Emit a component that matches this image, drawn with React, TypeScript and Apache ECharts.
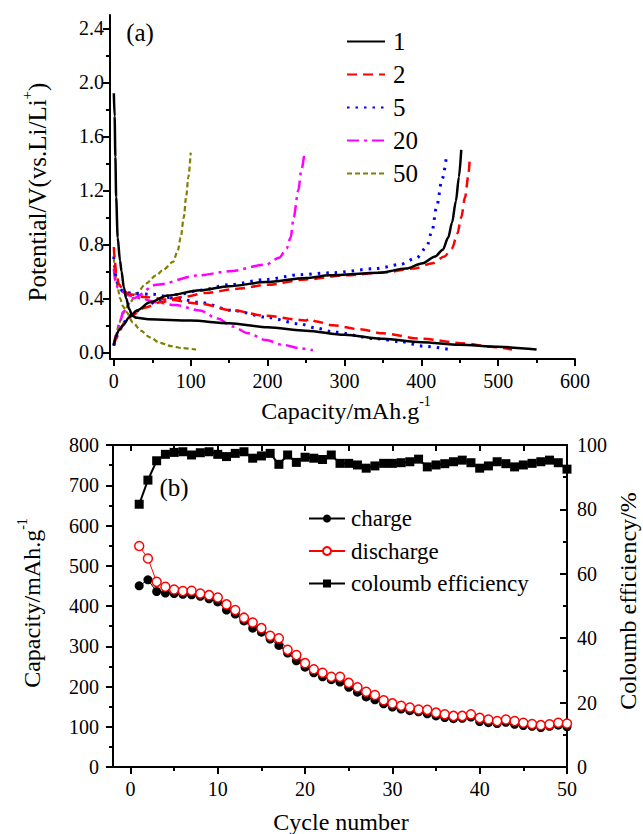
import React, { useEffect, useRef } from 'react';
import * as echarts from 'echarts';

const FONT = 'Liberation Serif';

// ---------- (a) charge / discharge profiles: [capacity mAh/g, potential V] ----------
const cycle1Discharge = [[0,1.92],[1,1.75],[2,1.45],[3,1.15],[5,0.85],[8,0.68],[10,0.6],[13,0.48],[16,0.4],[20,0.32],[24,0.27],[30,0.255],[45,0.245],[100,0.235],[150,0.215],[200,0.185],[250,0.16],[300,0.13],[350,0.1],[400,0.075],[450,0.055],[500,0.04],[550,0.02]];
const cycle1Charge = [[0,0.05],[3,0.12],[6,0.16],[12,0.2],[20,0.26],[30,0.31],[47,0.37],[70,0.42],[112,0.46],[150,0.49],[198,0.52],[250,0.55],[281,0.57],[346,0.59],[380,0.62],[402,0.66],[418,0.71],[428,0.76],[435,0.85],[440,0.96],[445,1.12],[449,1.3],[452,1.5]];
const cycle2Discharge = [[0,0.78],[1,0.7],[3,0.58],[7,0.5],[12,0.46],[20,0.43],[40,0.41],[70,0.39],[112,0.36],[155,0.31],[198,0.27],[242,0.24],[250,0.235],[255,0.25],[262,0.23],[285,0.2],[320,0.17],[350,0.14],[400,0.1],[458,0.065],[490,0.04],[518,0.02]];
const cycle2Charge = [[0,0.05],[3,0.1],[8,0.17],[15,0.23],[25,0.28],[40,0.33],[60,0.37],[90,0.41],[120,0.44],[160,0.47],[200,0.5],[250,0.54],[300,0.57],[350,0.59],[390,0.62],[415,0.66],[430,0.71],[440,0.77],[447,0.88],[452,1.0],[457,1.15],[461,1.3],[463,1.43]];
const cycle5Discharge = [[0,0.71],[1,0.64],[3,0.55],[7,0.48],[12,0.45],[25,0.435],[50,0.43],[80,0.4],[112,0.37],[155,0.31],[198,0.26],[242,0.21],[263,0.18],[285,0.15],[341,0.1],[372,0.08],[403,0.045],[437,0.02]];
const cycle5Charge = [[0,0.05],[3,0.11],[8,0.17],[15,0.23],[25,0.29],[40,0.34],[60,0.39],[85,0.43],[112,0.46],[150,0.5],[198,0.54],[242,0.575],[285,0.59],[341,0.62],[372,0.65],[394,0.7],[407,0.78],[414,0.9],[420,1.08],[427,1.28],[433,1.46]];
const cycle20Discharge = [[0,0.62],[2,0.53],[5,0.48],[10,0.45],[20,0.42],[35,0.4],[55,0.37],[80,0.35],[112,0.31],[135,0.25],[155,0.19],[175,0.14],[198,0.09],[220,0.055],[242,0.03],[259,0.015]];
const cycle20Charge = [[0,0.06],[3,0.13],[8,0.22],[12,0.3],[25,0.4],[55,0.5],[110,0.57],[150,0.6],[198,0.65],[215,0.7],[225,0.77],[230,0.85],[234,1.0],[240,1.2],[244,1.35],[248,1.48]];
const cycle50Discharge = [[0,0.7],[2,0.58],[5,0.48],[8,0.4],[12,0.34],[16,0.3],[25,0.22],[35,0.16],[47,0.11],[60,0.07],[75,0.045],[90,0.03],[107,0.02]];
const cycle50Charge = [[0,0.05],[3,0.13],[7,0.22],[12,0.29],[20,0.36],[30,0.44],[42,0.51],[55,0.57],[64,0.61],[77,0.67],[83,0.75],[87,0.85],[91,1.0],[94,1.15],[97,1.3],[100,1.48]];

const capTicks = [0, 100, 200, 300, 400, 500, 600];
const capMinorTicks = [50, 150, 250, 350, 450, 550];
const potTicks = [0, 0.4, 0.8, 1.2, 1.6, 2.0, 2.4];
const potMinorTicks = [0.2, 0.6, 1.0, 1.4, 1.8, 2.2];

// ---------- (b) cycling ----------
const cycles = [1,2,3,4,5,6,7,8,9,10,11,12,13,14,15,16,17,18,19,20,21,22,23,24,25,26,27,28,29,30,31,32,33,34,35,36,37,38,39,40,41,42,43,44,45,46,47,48,49,50];
const chargeCap = [450,465,436,432,431,429,428,424,418,410,390,380,363,345,335,318,302,283,264,248,234,224,217,211,198,186,174,167,157,149,144,140,137,132,127,123,120,121,124,113,110,108,111,106,103,101,98,101,104,100];
const dischargeCap = [549,518,460,448,441,437,438,431,427,421,404,390,371,359,345,326,320,291,278,258,243,234,224,224,209,198,187,179,166,158,152,148,143,142,135,131,127,127,131,122,118,114,118,114,110,107,104,106,110,108];
const efficiency = [81.6,89.1,95.1,97.1,97.7,97.9,96.9,97.6,97.9,97.1,96.4,97.4,97.9,95.9,96.6,97.4,94.0,96.9,94.6,96.2,95.9,95.5,96.9,94.3,94.3,93.8,92.8,93.5,94.3,94.3,94.5,94.8,95.6,93.2,93.8,94.2,94.8,95.3,94.5,92.8,93.5,94.8,94.2,93.2,93.8,94.3,94.8,95.3,94.5,92.5];
const cycleTicks = [0, 10, 20, 30, 40, 50];
const cycleMinorTicks = [5, 15, 25, 35, 45];
const cycleTopTicks = [0, 5, 10, 15, 20, 25, 30, 35, 40, 45, 50];

const BLACK = '#000000';

const profileLine = (name: string, data: number[][], color: string, type: any, width: number, z: number) => ({
  type: 'line',
  name,
  data,
  xAxisIndex: 0,
  yAxisIndex: 0,
  symbol: 'none',
  showSymbol: false,
  smooth: 0.3,
  smoothMonotone: 'x',
  z,
  lineStyle: { color, width, type, cap: 'butt' },
  itemStyle: { color },
});

const labelStyle = { fontFamily: FONT, fontSize: 20, color: BLACK };

export default function App() {
  const ref = useRef<HTMLDivElement>(null);
  useEffect(() => {
    document.body.style.margin = '0';
    const chart = echarts.init(ref.current!, null, { renderer: 'svg' });
    const axLine = { show: true, onZero: false, lineStyle: { color: BLACK, width: 2 } };
    const noLine = { show: false, onZero: false };
    const tickStyle = { color: BLACK, width: 2 };

    const option: any = {
      animation: false,
      backgroundColor: '#ffffff',
      textStyle: { fontFamily: FONT },
      grid: [
        { left: 110, right: 68, top: 15, bottom: 475 },
        { left: 113, right: 76, top: 445, bottom: 67 },
      ],
      xAxis: [
        {
          gridIndex: 0, type: 'value', position: 'bottom', min: -5, max: 600,
          axisLine: axLine,
          axisTick: { show: true, inside: false, length: 7, customValues: capTicks, lineStyle: tickStyle },
          axisLabel: { ...labelStyle, margin: 12, customValues: capTicks },
          splitLine: { show: false },
        },
        {
          gridIndex: 0, type: 'value', position: 'bottom', min: -5, max: 600,
          axisLine: noLine,
          axisTick: { show: true, inside: false, length: 4, customValues: capMinorTicks, lineStyle: tickStyle },
          axisLabel: { show: false },
          splitLine: { show: false },
        },
        {
          gridIndex: 1, type: 'value', position: 'bottom', min: -2, max: 50,
          axisLine: axLine,
          axisTick: { show: true, inside: false, length: 7, customValues: cycleTicks, lineStyle: tickStyle },
          axisLabel: { ...labelStyle, margin: 12, customValues: cycleTicks },
          splitLine: { show: false },
        },
        {
          gridIndex: 1, type: 'value', position: 'bottom', min: -2, max: 50,
          axisLine: noLine,
          axisTick: { show: true, inside: false, length: 4, customValues: cycleMinorTicks, lineStyle: tickStyle },
          axisLabel: { show: false },
          splitLine: { show: false },
        },
        {
          gridIndex: 1, type: 'value', position: 'top', min: -2, max: 50,
          axisLine: axLine,
          axisTick: { show: true, inside: true, length: 6, customValues: cycleTopTicks, lineStyle: tickStyle },
          axisLabel: { show: false },
          splitLine: { show: false },
        },
      ],
      yAxis: [
        {
          gridIndex: 0, type: 'value', position: 'left', min: -0.05, max: 2.5,
          axisLine: axLine,
          axisTick: { show: true, inside: false, length: 7, customValues: potTicks, lineStyle: tickStyle },
          axisLabel: { ...labelStyle, margin: 6, customValues: potTicks, formatter: (v: number) => v.toFixed(1) },
          splitLine: { show: false },
        },
        {
          gridIndex: 0, type: 'value', position: 'left', min: -0.05, max: 2.5,
          axisLine: noLine,
          axisTick: { show: true, inside: false, length: 4, customValues: potMinorTicks, lineStyle: tickStyle },
          axisLabel: { show: false },
          splitLine: { show: false },
        },
        {
          gridIndex: 1, type: 'value', position: 'left', min: 0, max: 800, interval: 100,
          axisLine: axLine,
          axisTick: { show: true, inside: false, length: 7, lineStyle: tickStyle },
          axisLabel: { ...labelStyle, margin: 14 },
          minorTick: { show: true, splitNumber: 2, length: 4, lineStyle: tickStyle },
          splitLine: { show: false },
        },
        {
          gridIndex: 1, type: 'value', position: 'right', min: 0, max: 100, interval: 20,
          axisLine: axLine,
          axisTick: { show: true, inside: true, length: 7, lineStyle: tickStyle },
          axisLabel: { ...labelStyle, margin: 10 },
          minorTick: { show: true, splitNumber: 2, length: 4, lineStyle: tickStyle },
          splitLine: { show: false },
        },
      ],
      legend: [
        {
          orient: 'vertical', left: 346, top: 29, padding: 0, itemWidth: 38, itemHeight: 14, itemGap: 8,
          data: ['1', '2', '5', '20', '50'],
          itemStyle: { opacity: 0, borderWidth: 0 },
          textStyle: { fontFamily: FONT, fontSize: 25, color: BLACK, padding: [0, 0, 0, 3] },
          selectedMode: false,
        },
        {
          orient: 'vertical', left: 308, top: 507, padding: 0, itemWidth: 36, itemHeight: 10, itemGap: 9.5,
          data: ['charge', 'discharge', 'coloumb efficiency'],
          textStyle: { fontFamily: FONT, fontSize: 23, color: BLACK, padding: [0, 0, 0, 1] },
          selectedMode: false,
        },
      ],
      series: [
        profileLine('50', cycle50Discharge, '#808000', [5, 3], 2.2, 2),
        profileLine('50', cycle50Charge, '#808000', [5, 3], 2.2, 2),
        profileLine('20', cycle20Discharge, '#ff00ff', [12, 5, 3, 5], 2.5, 3),
        profileLine('20', cycle20Charge, '#ff00ff', [12, 5, 3, 5], 2.5, 3),
        profileLine('5', cycle5Discharge, '#0000ff', [2.5, 6], 3, 4),
        profileLine('5', cycle5Charge, '#0000ff', [2.5, 6], 3, 4),
        profileLine('2', cycle2Discharge, '#ff0000', [10, 6], 2.5, 5),
        profileLine('2', cycle2Charge, '#ff0000', [10, 6], 2.5, 5),
        profileLine('1', cycle1Discharge, BLACK, 'solid', 2.5, 6),
        profileLine('1', cycle1Charge, BLACK, 'solid', 2.5, 6),
        {
          type: 'line', name: 'coloumb efficiency', xAxisIndex: 2, yAxisIndex: 3,
          data: cycles.map((c, i) => [c, efficiency[i]]),
          symbol: 'rect', symbolSize: 9, showSymbol: true,
          lineStyle: { color: BLACK, width: 2 },
          itemStyle: { color: BLACK },
          z: 3,
        },
        {
          type: 'line', name: 'charge', xAxisIndex: 2, yAxisIndex: 2,
          data: cycles.map((c, i) => [c, chargeCap[i]]),
          symbol: 'circle', symbolSize: 9, showSymbol: true,
          lineStyle: { color: BLACK, width: 1 },
          itemStyle: { color: BLACK },
          z: 3,
        },
        {
          type: 'line', name: 'discharge', xAxisIndex: 2, yAxisIndex: 2,
          data: cycles.map((c, i) => [c, dischargeCap[i]]),
          symbol: 'circle', symbolSize: 9, showSymbol: true,
          lineStyle: { color: '#ff0000', width: 1 },
          itemStyle: { color: '#ffffff', borderColor: '#ff0000', borderWidth: 1.5 },
          z: 4,
        },
      ],
      graphic: [
        { type: 'text', x: 140, y: 32, style: { text: '(a)', fontFamily: FONT, fontSize: 25, fill: BLACK, align: 'center', verticalAlign: 'middle' } },
        { type: 'text', x: 174, y: 487, style: { text: '(b)', fontFamily: FONT, fontSize: 25, fill: BLACK, align: 'center', verticalAlign: 'middle' } },
        {
          type: 'text', x: 346, y: 411,
          style: {
            text: '{m|Capacity/mAh.g}{s|-1}', align: 'center', verticalAlign: 'middle', fill: BLACK,
            rich: {
              m: { fontFamily: FONT, fontSize: 24, lineHeight: 34, fill: BLACK },
              s: { fontFamily: FONT, fontSize: 14, lineHeight: 14, verticalAlign: 'top', fill: BLACK },
            },
          },
        },
        {
          type: 'text', x: 37, y: 192, rotation: Math.PI / 2,
          style: {
            text: '{m|Potential/V(vs.Li/Li}{s|+}{m|)}', align: 'center', verticalAlign: 'middle', fill: BLACK,
            rich: {
              m: { fontFamily: FONT, fontSize: 25, lineHeight: 35, fill: BLACK },
              s: { fontFamily: FONT, fontSize: 15, lineHeight: 15, verticalAlign: 'top', fill: BLACK },
            },
          },
        },
        { type: 'text', x: 341, y: 822, style: { text: 'Cycle number', fontFamily: FONT, fontSize: 24, fill: BLACK, align: 'center', verticalAlign: 'middle' } },
        {
          type: 'text', x: 32, y: 603, rotation: Math.PI / 2,
          style: {
            text: '{m|Capacity/mAh.g}{s|-1}', align: 'center', verticalAlign: 'middle', fill: BLACK,
            rich: {
              m: { fontFamily: FONT, fontSize: 24, lineHeight: 34, fill: BLACK },
              s: { fontFamily: FONT, fontSize: 14, lineHeight: 14, verticalAlign: 'top', fill: BLACK },
            },
          },
        },
        { type: 'text', x: 628, y: 601, rotation: Math.PI / 2, style: { text: 'Coloumb efficiency/%', fontFamily: FONT, fontSize: 24, fill: BLACK, align: 'center', verticalAlign: 'middle' } },
      ],
    };
    chart.setOption(option);
    return () => chart.dispose();
  }, []);
  return <div ref={ref} style={{ width: 643, height: 834 }} />;
}
